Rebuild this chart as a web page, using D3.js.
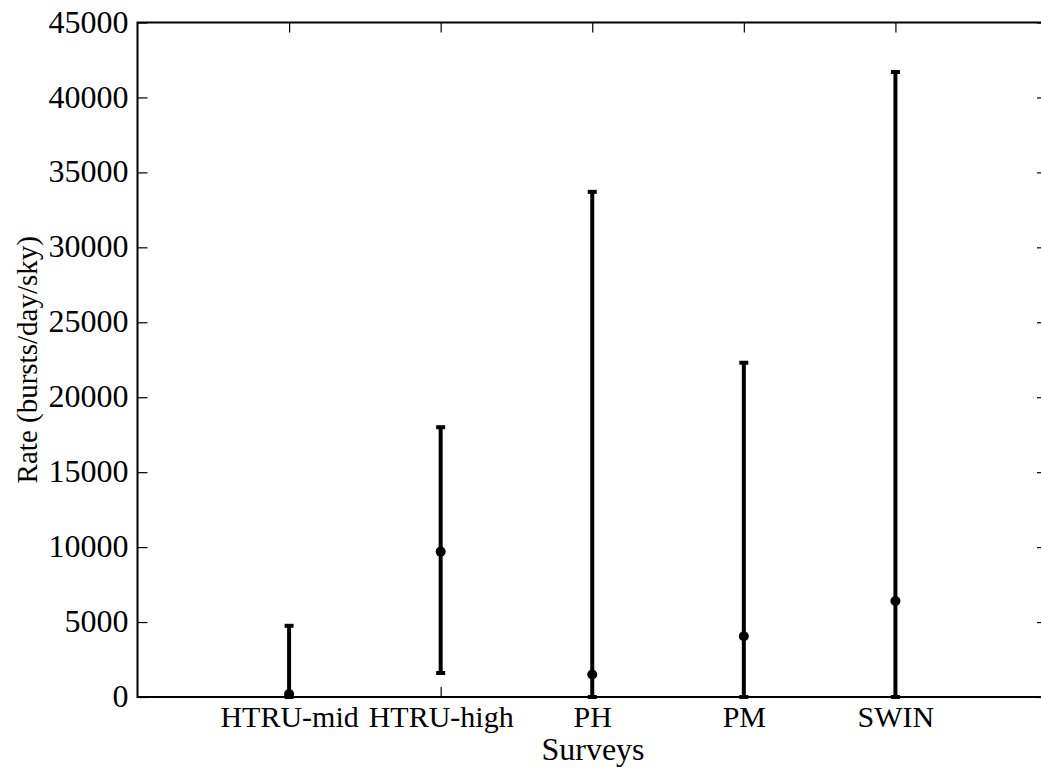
<!DOCTYPE html>
<html>
<head>
<meta charset="utf-8">
<script src="https://cdn.jsdelivr.net/npm/d3@7"></script>
<style>
  body { margin: 0; background: #fff; }
</style>
</head>
<body>
<div id="chart"></div>
<script>
// survey rate chart, error bars with a point each

const surveys = ["HTRU-mid", "HTRU-high", "PH", "PM", "SWIN"];
const rates = [200, 9700, 1500, 4050, 6400];
const lowers = [0, 1600, 0, 0, 0];
const uppers = [4750, 18000, 33700, 22300, 41700];
const yTicks = [0, 5000, 10000, 15000, 20000, 25000, 30000, 35000, 40000, 45000];

const FONT = "'Liberation Serif', 'Times New Roman', 'DejaVu Serif', serif";

const FRAME_WIDTH = 1041;
const FRAME_HEIGHT = 767;
const MARGINS = {left: 137.5, right: -6, top: 22.5, bottom: 70};

const VIS_WIDTH = FRAME_WIDTH - MARGINS.left - MARGINS.right;
const VIS_HEIGHT = FRAME_HEIGHT - MARGINS.top - MARGINS.bottom;

const FRAME = d3.select("#chart")
  .append("svg")
    .attr("width", FRAME_WIDTH)
    .attr("height", FRAME_HEIGHT);

const xSCALE = d3.scaleLinear().domain([0, 6]).range([0, VIS_WIDTH]);
const ySCALE = d3.scaleLinear().domain([0, 45000]).range([VIS_HEIGHT, 0]);

const g = FRAME.append("g")
  .attr("transform", "translate(" + MARGINS.left + "," + MARGINS.top + ")");

const catIdx = surveys.map((d, i) => i + 1);

// left axis with inner ticks
g.append("g")
  .call(d3.axisLeft(ySCALE).tickValues(yTicks).tickSize(-10).tickPadding(9).tickFormat(d3.format("d")))
  .call(a => a.select(".domain").remove())
  .attr("font-family", FONT)
  .selectAll("text")
    .attr("font-family", FONT)
    .attr("font-size", "32px")
    .attr("fill", "#000")
    .attr("dy", "0.3em");

// right axis inner ticks
g.append("g")
  .attr("transform", "translate(" + VIS_WIDTH + ",0)")
  .call(d3.axisRight(ySCALE).tickValues(yTicks).tickSize(-10).tickFormat(""))
  .call(a => a.select(".domain").remove());

// bottom axis
g.append("g")
  .attr("transform", "translate(0," + VIS_HEIGHT + ")")
  .call(d3.axisBottom(xSCALE).tickValues(catIdx).tickSize(-10).tickPadding(9)
    .tickFormat((d, i) => surveys[i]))
  .call(a => a.select(".domain").remove())
  .attr("font-family", FONT)
  .selectAll("text")
    .attr("font-family", FONT)
    .attr("font-size", "30px")
    .attr("fill", "#000");

// top axis
g.append("g")
  .call(d3.axisTop(xSCALE).tickValues(catIdx).tickSize(-10).tickFormat(""))
  .call(a => a.select(".domain").remove());

g.selectAll(".tick line").attr("stroke", "#000").attr("stroke-width", 1.2);

// border
g.append("rect")
  .attr("x", 0).attr("y", 0)
  .attr("width", VIS_WIDTH).attr("height", VIS_HEIGHT)
  .attr("fill", "none")
  .attr("stroke", "#000")
  .attr("stroke-width", 2);

// error bars
const bars = g.selectAll(".bar")
  .data(surveys)
  .enter()
  .append("g");

bars.append("line")
  .attr("x1", (d, i) => xSCALE(i + 1))
  .attr("x2", (d, i) => xSCALE(i + 1))
  .attr("y1", (d, i) => ySCALE(lowers[i]))
  .attr("y2", (d, i) => ySCALE(uppers[i]))
  .attr("stroke", "#000")
  .attr("stroke-width", 4);

bars.append("line")
  .attr("x1", (d, i) => xSCALE(i + 1) - 4.5)
  .attr("x2", (d, i) => xSCALE(i + 1) + 4.5)
  .attr("y1", (d, i) => ySCALE(uppers[i]))
  .attr("y2", (d, i) => ySCALE(uppers[i]))
  .attr("stroke", "#000")
  .attr("stroke-width", 4);

bars.append("line")
  .attr("x1", (d, i) => xSCALE(i + 1) - 4.5)
  .attr("x2", (d, i) => xSCALE(i + 1) + 4.5)
  .attr("y1", (d, i) => ySCALE(lowers[i]))
  .attr("y2", (d, i) => ySCALE(lowers[i]))
  .attr("stroke", "#000")
  .attr("stroke-width", 4);

bars.append("circle")
  .attr("cx", (d, i) => xSCALE(i + 1))
  .attr("cy", (d, i) => ySCALE(rates[i]))
  .attr("r", 5)
  .attr("fill", "#000");

// axis titles
FRAME.append("text")
  .attr("x", 593)
  .attr("y", 760)
  .attr("text-anchor", "middle")
  .attr("font-family", FONT)
  .attr("font-size", "32px")
  .text("Surveys");

FRAME.append("text")
  .attr("transform", "translate(37," + (MARGINS.top + VIS_HEIGHT / 2) + ") rotate(-90)")
  .attr("text-anchor", "middle")
  .attr("font-family", FONT)
  .attr("font-size", "29px")
  .text("Rate (bursts/day/sky)");
</script>
</body>
</html>
